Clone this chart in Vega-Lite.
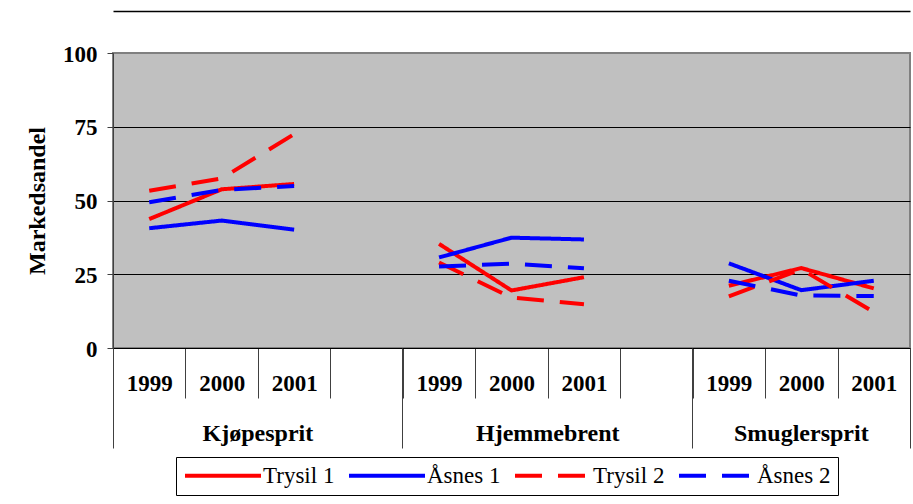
{
  "$schema": "https://vega.github.io/schema/vega-lite/v6.json",
  "autosize": "none",
  "width": 797,
  "height": 295,
  "padding": {"left": 113, "top": 53, "right": 3, "bottom": 156},
  "background": "white",
  "config": {
    "font": "Liberation Serif",
    "view": {"fill": "#C0C0C0", "stroke": "#808080", "strokeWidth": 2},
    "axis": {"labelColor": "black", "titleColor": "black", "labelFont": "Liberation Serif", "titleFont": "Liberation Serif"}
  },
  "data": {
    "values": [
      {"group": "Kjøpesprit", "slot": "Kjøpesprit|1999", "series": "Trysil 1", "value": 43.7},
      {"group": "Kjøpesprit", "slot": "Kjøpesprit|2000", "series": "Trysil 1", "value": 53.8},
      {"group": "Kjøpesprit", "slot": "Kjøpesprit|2001", "series": "Trysil 1", "value": 55.6},
      {"group": "Kjøpesprit", "slot": "Kjøpesprit|1999", "series": "Åsnes 1", "value": 40.6},
      {"group": "Kjøpesprit", "slot": "Kjøpesprit|2000", "series": "Åsnes 1", "value": 43.2},
      {"group": "Kjøpesprit", "slot": "Kjøpesprit|2001", "series": "Åsnes 1", "value": 40.1},
      {"group": "Kjøpesprit", "slot": "Kjøpesprit|1999", "series": "Trysil 2", "value": 53.3},
      {"group": "Kjøpesprit", "slot": "Kjøpesprit|2000", "series": "Trysil 2", "value": 57.5},
      {"group": "Kjøpesprit", "slot": "Kjøpesprit|2001", "series": "Trysil 2", "value": 72.5},
      {"group": "Kjøpesprit", "slot": "Kjøpesprit|1999", "series": "Åsnes 2", "value": 49.4},
      {"group": "Kjøpesprit", "slot": "Kjøpesprit|2000", "series": "Åsnes 2", "value": 53.6},
      {"group": "Kjøpesprit", "slot": "Kjøpesprit|2001", "series": "Åsnes 2", "value": 54.9},
      {"group": "Hjemmebrent", "slot": "Hjemmebrent|1999", "series": "Trysil 1", "value": 35.3},
      {"group": "Hjemmebrent", "slot": "Hjemmebrent|2000", "series": "Trysil 1", "value": 19.5},
      {"group": "Hjemmebrent", "slot": "Hjemmebrent|2001", "series": "Trysil 1", "value": 24.0},
      {"group": "Hjemmebrent", "slot": "Hjemmebrent|1999", "series": "Åsnes 1", "value": 30.7},
      {"group": "Hjemmebrent", "slot": "Hjemmebrent|2000", "series": "Åsnes 1", "value": 37.4},
      {"group": "Hjemmebrent", "slot": "Hjemmebrent|2001", "series": "Åsnes 1", "value": 36.8},
      {"group": "Hjemmebrent", "slot": "Hjemmebrent|1999", "series": "Trysil 2", "value": 29.0},
      {"group": "Hjemmebrent", "slot": "Hjemmebrent|2000", "series": "Trysil 2", "value": 17.1},
      {"group": "Hjemmebrent", "slot": "Hjemmebrent|2001", "series": "Trysil 2", "value": 14.8},
      {"group": "Hjemmebrent", "slot": "Hjemmebrent|1999", "series": "Åsnes 2", "value": 27.6},
      {"group": "Hjemmebrent", "slot": "Hjemmebrent|2000", "series": "Åsnes 2", "value": 28.6},
      {"group": "Hjemmebrent", "slot": "Hjemmebrent|2001", "series": "Åsnes 2", "value": 27.0},
      {"group": "Smuglersprit", "slot": "Smuglersprit|1999", "series": "Trysil 1", "value": 21.1},
      {"group": "Smuglersprit", "slot": "Smuglersprit|2000", "series": "Trysil 1", "value": 27.1},
      {"group": "Smuglersprit", "slot": "Smuglersprit|2001", "series": "Trysil 1", "value": 20.2},
      {"group": "Smuglersprit", "slot": "Smuglersprit|1999", "series": "Åsnes 1", "value": 28.7},
      {"group": "Smuglersprit", "slot": "Smuglersprit|2000", "series": "Åsnes 1", "value": 19.6},
      {"group": "Smuglersprit", "slot": "Smuglersprit|2001", "series": "Åsnes 1", "value": 22.8},
      {"group": "Smuglersprit", "slot": "Smuglersprit|1999", "series": "Trysil 2", "value": 17.5},
      {"group": "Smuglersprit", "slot": "Smuglersprit|2000", "series": "Trysil 2", "value": 26.7},
      {"group": "Smuglersprit", "slot": "Smuglersprit|2001", "series": "Trysil 2", "value": 12.2},
      {"group": "Smuglersprit", "slot": "Smuglersprit|1999", "series": "Åsnes 2", "value": 22.8},
      {"group": "Smuglersprit", "slot": "Smuglersprit|2000", "series": "Åsnes 2", "value": 17.8},
      {"group": "Smuglersprit", "slot": "Smuglersprit|2001", "series": "Åsnes 2", "value": 17.6}
    ]
  },
  "resolve": {"axis": {"x": "independent"}},
  "layer": [
    {
      "mark": {"type": "line", "strokeWidth": 4},
      "encoding": {
        "x": {
          "field": "slot",
          "type": "nominal",
          "sort": null,
          "scale": {
            "type": "band",
            "paddingInner": 0,
            "paddingOuter": 0,
            "domain": ["Kjøpesprit|1999", "Kjøpesprit|2000", "Kjøpesprit|2001", "Kjøpesprit|", "Hjemmebrent|1999", "Hjemmebrent|2000", "Hjemmebrent|2001", "Hjemmebrent|", "Smuglersprit|1999", "Smuglersprit|2000", "Smuglersprit|2001"]
          },
          "axis": {
            "title": null,
            "orient": "bottom",
            "tickBand": "extent",
            "tickSize": 50,
            "tickColor": "#404040",
            "tickWidth": 1,
            "domainColor": "black",
            "domainWidth": 1,
            "labelExpr": "split(datum.value, '|')[1]",
            "labelFontSize": 23,
            "labelFontWeight": "bold",
            "labelAngle": 0,
            "labelBaseline": "alphabetic",
            "labelPadding": -8,
            "labelOverlap": false,
            "grid": false
          }
        },
        "y": {
          "field": "value",
          "type": "quantitative",
          "scale": {"domain": [0, 100], "nice": false},
          "axis": {
            "title": "Markedsandel",
            "values": [0, 25, 50, 75, 100],
            "grid": true,
            "gridColor": {"condition": {"test": "datum.value == 100", "value": "#808080"}, "value": "black"},
            "gridWidth": 1,
            "tickSize": 6,
            "tickColor": "#404040",
            "domainColor": "#404040",
            "labelFontSize": 23,
            "labelFontWeight": "bold",
            "labelPadding": 10,
            "labelOffset": 1,
            "titleFontSize": 24,
            "titleFontWeight": "bold",
            "titlePadding": 13
          }
        },
        "color": {
          "field": "series",
          "type": "nominal",
          "scale": {"domain": ["Trysil 1", "Åsnes 1", "Trysil 2", "Åsnes 2"], "range": ["#FF0000", "#0000FF", "#FF0000", "#0000FF"]},
          "legend": {
            "orient": "none",
            "legendX": 63,
            "legendY": 404,
            "direction": "horizontal",
            "columns": 4,
            "title": null,
            "symbolType": "M-1,0H7",
            "symbolSize": 361,
            "symbolStrokeWidth": 4,
            "labelFontSize": 23,
            "labelColor": "black",
            "labelLimit": 0,
            "labelOffset": 57,
            "columnPadding": 6,
            "strokeColor": "black",
            "fillColor": "white",
            "padding": 7
          }
        },
        "strokeDash": {
          "field": "series",
          "type": "nominal",
          "scale": {"domain": ["Trysil 1", "Åsnes 1", "Trysil 2", "Åsnes 2"], "range": [[1, 0], [1, 0], [27, 16], [27, 16]]}
        },
        "detail": {"field": "group", "type": "nominal"}
      }
    },
    {
      "mark": {"type": "point", "opacity": 0},
      "encoding": {
        "x": {
          "field": "slot",
          "type": "nominal",
          "sort": null,
          "scale": {"type": "band", "paddingInner": 0, "paddingOuter": 0},
          "axis": {
            "title": null,
            "orient": "bottom",
            "values": ["Kjøpesprit|1999", "Hjemmebrent|1999", "Smuglersprit|1999"],
            "bandPosition": 0,
            "tickSize": 100,
            "tickColor": "#404040",
            "tickWidth": 1,
            "domain": false,
            "labelExpr": "split(datum.value, '|')[0]",
            "labelOffset": {"condition": {"test": "datum.value == 'Smuglersprit|1999'", "value": 72.45}, "value": 108.7},
            "labelFontSize": 24,
            "labelFontWeight": "bold",
            "labelAngle": 0,
            "labelBaseline": "alphabetic",
            "labelPadding": -8,
            "labelOverlap": false,
            "labelBound": false,
            "grid": false
          }
        }
      }
    },
    {
      "mark": {"type": "point", "opacity": 0},
      "encoding": {
        "x": {
          "field": "slot",
          "type": "nominal",
          "sort": null,
          "scale": {"type": "band", "paddingInner": 0, "paddingOuter": 0},
          "axis": {
            "title": null,
            "orient": "bottom",
            "values": ["Smuglersprit|2001"],
            "bandPosition": 1,
            "tickSize": 100,
            "tickColor": "#404040",
            "tickWidth": 1,
            "domain": false,
            "labels": false,
            "grid": false
          }
        }
      }
    },
    {
      "mark": {"type": "point", "opacity": 0},
      "encoding": {
        "x": {
          "field": "slot",
          "type": "nominal",
          "sort": null,
          "scale": {"type": "band", "paddingInner": 0, "paddingOuter": 0},
          "axis": {
            "title": null,
            "orient": "top",
            "offset": 42,
            "domain": true,
            "domainColor": "black",
            "domainWidth": 1.5,
            "ticks": false,
            "labels": false,
            "grid": false
          }
        }
      }
    }
  ]
}
